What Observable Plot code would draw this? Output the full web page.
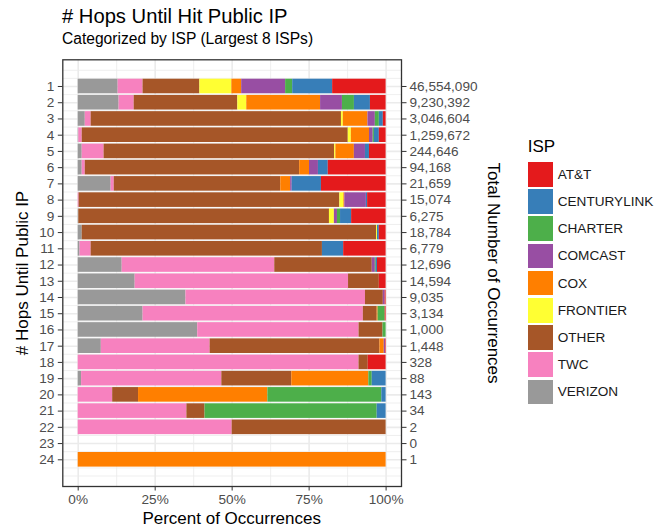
<!DOCTYPE html>
<html>
<head>
<meta charset="utf-8">
<script src="https://cdn.jsdelivr.net/npm/d3@7"></script>
<script src="https://cdn.jsdelivr.net/npm/@observablehq/plot@0.6"></script>
<style>
  html, body { margin: 0; padding: 0; background: #fff; }
  #wrap { position: relative; width: 670px; height: 529px; overflow: hidden; font-family: "Liberation Sans", Arial, sans-serif; }
  #chart { position: absolute; left: 0; top: 0; }
  .lbl { position: absolute; white-space: nowrap; line-height: 1; color: #000; }
  .rot { transform: translate(-50%, -50%) rotate(-90deg); }
  .rotR { transform: translate(-50%, -50%) rotate(90deg); }
  #legend { position: absolute; left: 527.7px; top: 138.3px; }
  #legend .ltitle { font-size: 17px; line-height: 1; color: #000; margin-bottom: 5.5px; }
  #legend .item { display: flex; align-items: center; height: 27.2px; }
  #legend .key { width: 25px; height: 24.7px; margin-right: 5px; }
  #legend .txt { font-size: 13.6px; color: #1a1a1a; }
</style>
</head>
<body>
<div id="wrap">
  <div id="chart"></div>
  <div class="lbl" style="left:62px; top:6.3px; font-size:20.2px;"># Hops Until Hit Public IP</div>
  <div class="lbl" style="left:62px; top:31.1px; font-size:15.6px;">Categorized by ISP (Largest 8 ISPs)</div>
  <div class="lbl" style="left:231.7px; top:517.6px; font-size:17px; transform: translate(-50%,-50%);">Percent of Occurrences</div>
  <div class="lbl rot" style="left:21.5px; top:272.6px; font-size:17px;"># Hops Until Public IP</div>
  <div class="lbl rotR" style="left:493px; top:272.6px; font-size:17px;">Total Number of Occurrences</div>
  <div id="legend"></div>
</div>
<script>
// ---- data ----
const hops = [1,2,3,4,5,6,7,8,9,10,11,12,13,14,15,16,17,18,19,20,21,22,23,24];
const totals = [46554090, 9230392, 3046604, 1259672, 244646, 94168, 21659, 15074, 6275, 18784, 6779, 12696, 14594, 9035, 3134, 1000, 1448, 328, 88, 143, 34, 2, 0, 1];

const ispNames = ["AT&T", "CENTURYLINK", "CHARTER", "COMCAST", "COX", "FRONTIER", "OTHER", "TWC", "VERIZON"];
const ispColors = ["#E41A1C", "#377EB8", "#4DAF4A", "#984EA3", "#FF7F00", "#FFFF33", "#A65628", "#F781BF", "#999999"];

// percent of occurrences per hop (index = hop - 1)
const verizon     = [13.0, 13.3,  2.3,  0.2,  1.3,  1.3, 10.7,  0.0,  0.2,  1.3,  0.6, 14.3, 18.5, 35.0, 21.1, 38.9,  7.5,  0.0,  1.1,  0.0,  0.0,  0.0, 0, 0];
const twc         = [ 8.1,  4.9,  1.9,  1.1,  7.1,  1.0,  1.0,  0.3,  0.0,  0.0,  3.6, 49.6, 69.3, 58.3, 71.6, 52.5, 35.3, 91.2, 45.5, 11.2, 35.3, 50.0, 0, 0];
const other       = [18.5, 33.7, 81.3, 86.5, 74.8, 69.7, 54.1, 84.6, 81.4, 95.6, 75.2, 31.7, 10.0,  5.8,  4.5,  7.8, 55.1,  3.0, 22.7,  8.4,  5.9, 50.0, 0, 0];
const frontier    = [10.4,  2.9,  0.6,  1.0,  0.4,  0.0,  0.0,  1.3,  1.6,  0.3,  0.0,  0.0,  0.0,  0.0,  0.0,  0.0,  0.0,  0.0,  0.0,  0.0,  0.0,  0.0, 0, 0];
const cox         = [ 3.2, 24.0,  8.0,  5.9,  6.0,  3.2,  3.2,  0.3,  0.0,  0.0,  0.0,  0.0,  0.0,  0.0,  0.3,  0.0,  1.4,  0.0, 25.0, 42.0,  0.0,  0.0, 0, 100];
const comcast     = [14.3,  7.1,  2.4,  1.2,  3.6,  2.9,  0.5,  7.0,  1.0,  0.0,  0.0,  1.0,  0.0,  0.6,  0.0,  0.0,  0.4,  0.0,  0.0,  0.0,  0.0,  0.0, 0, 0];
const charter     = [ 2.3,  3.9,  1.3,  0.4,  0.0,  0.0,  0.0,  0.0,  1.0,  0.0,  0.0,  0.3,  0.0,  0.0,  2.3,  1.0,  0.0,  0.0,  1.1, 37.0, 55.9,  0.0, 0, 0];
const centurylink = [13.0,  5.2,  1.3,  1.6,  1.3,  3.2,  9.5,  0.4,  3.6,  0.6,  6.9,  0.4,  0.0,  0.0,  0.0,  0.0,  0.0,  0.0,  4.5,  1.4,  2.9,  0.0, 0, 0];
const att         = [17.4,  5.1,  0.9,  2.2,  5.4, 18.8, 21.0,  6.0, 11.2,  2.2, 13.8,  2.8,  2.2,  0.3,  0.3,  0.0,  0.2,  5.8,  0.0,  0.0,  0.0,  0.0, 0, 0];

const series = {
  "AT&T": att, "CENTURYLINK": centurylink, "CHARTER": charter, "COMCAST": comcast,
  "COX": cox, "FRONTIER": frontier, "OTHER": other, "TWC": twc, "VERIZON": verizon
};

// stacking order: left to right (reverse of legend order)
const stackOrder = ispNames.slice().reverse();

const rows = [];
hops.forEach((h, i) => {
  stackOrder.forEach(isp => {
    const v = series[isp][i];
    if (v > 0) rows.push({hop: h, isp, pct: v});
  });
});

const majorX = [0, 0.25, 0.5, 0.75, 1];
const minorX = [0.125, 0.375, 0.625, 0.875];
const minorY = [0, ...hops.map(h => h - 0.5), hops[hops.length - 1] + 0.5, hops[hops.length - 1] + 1];
const fmtN = d3.format(",");
const fmtP = d3.format(".0%");

const chart = Plot.plot({
  width: 670,
  height: 529,
  marginLeft: 62.3,
  marginRight: 269,
  marginTop: 59.3,
  marginBottom: 43,
  style: { fontFamily: "'Liberation Sans', Arial, sans-serif", fontSize: "13.6px", background: "transparent", overflow: "visible" },
  x: { domain: [-0.05, 1.05], axis: null },
  y: { domain: [-0.645, 25.645], reverse: true, axis: null },
  color: { domain: ispNames, range: ispColors },
  marks: [
    Plot.gridX({ ticks: minorX, stroke: "#ebebeb", strokeOpacity: 1, strokeWidth: 0.8 }),
    Plot.gridY({ ticks: minorY, stroke: "#ebebeb", strokeOpacity: 1, strokeWidth: 0.8 }),
    Plot.gridX({ ticks: majorX, stroke: "#ebebeb", strokeOpacity: 1, strokeWidth: 1.6 }),
    Plot.gridY({ ticks: hops, stroke: "#ebebeb", strokeOpacity: 1, strokeWidth: 1.6 }),
    Plot.rectX(rows, {
      y1: d => d.hop - 0.45,
      y2: d => d.hop + 0.45,
      x: "pct",
      fill: "isp",
      z: "isp",
      offset: "normalize",
      order: stackOrder
    }),
    Plot.frame({ stroke: "#333333", strokeWidth: 1.3 }),
    Plot.axisY({ anchor: "left", ticks: hops, tickFormat: d => String(d), tickSize: 4.5, tickPadding: 4,
      stroke: "#333333", fill: "#4d4d4d", fontSize: 13.6, label: null }),
    Plot.axisY({ anchor: "right", ticks: hops, tickFormat: d => fmtN(totals[hops.indexOf(d)]), tickSize: 4.5, tickPadding: 3.5,
      stroke: "#333333", fill: "#4d4d4d", fontSize: 13.6, label: null }),
    Plot.axisX({ anchor: "bottom", ticks: majorX, tickFormat: fmtP, tickSize: 4.5, tickPadding: 3.8,
      stroke: "#333333", fill: "#4d4d4d", fontSize: 13.6, label: null })
  ]
});
document.getElementById("chart").appendChild(chart);

// legend
const leg = document.getElementById("legend");
const t = document.createElement("div");
t.className = "ltitle";
t.textContent = "ISP";
leg.appendChild(t);
ispNames.forEach((name, i) => {
  const it = document.createElement("div");
  it.className = "item";
  const k = document.createElement("div");
  k.className = "key";
  k.style.background = ispColors[i];
  const s = document.createElement("span");
  s.className = "txt";
  s.textContent = name;
  it.appendChild(k);
  it.appendChild(s);
  leg.appendChild(it);
});
</script>
</body>
</html>
